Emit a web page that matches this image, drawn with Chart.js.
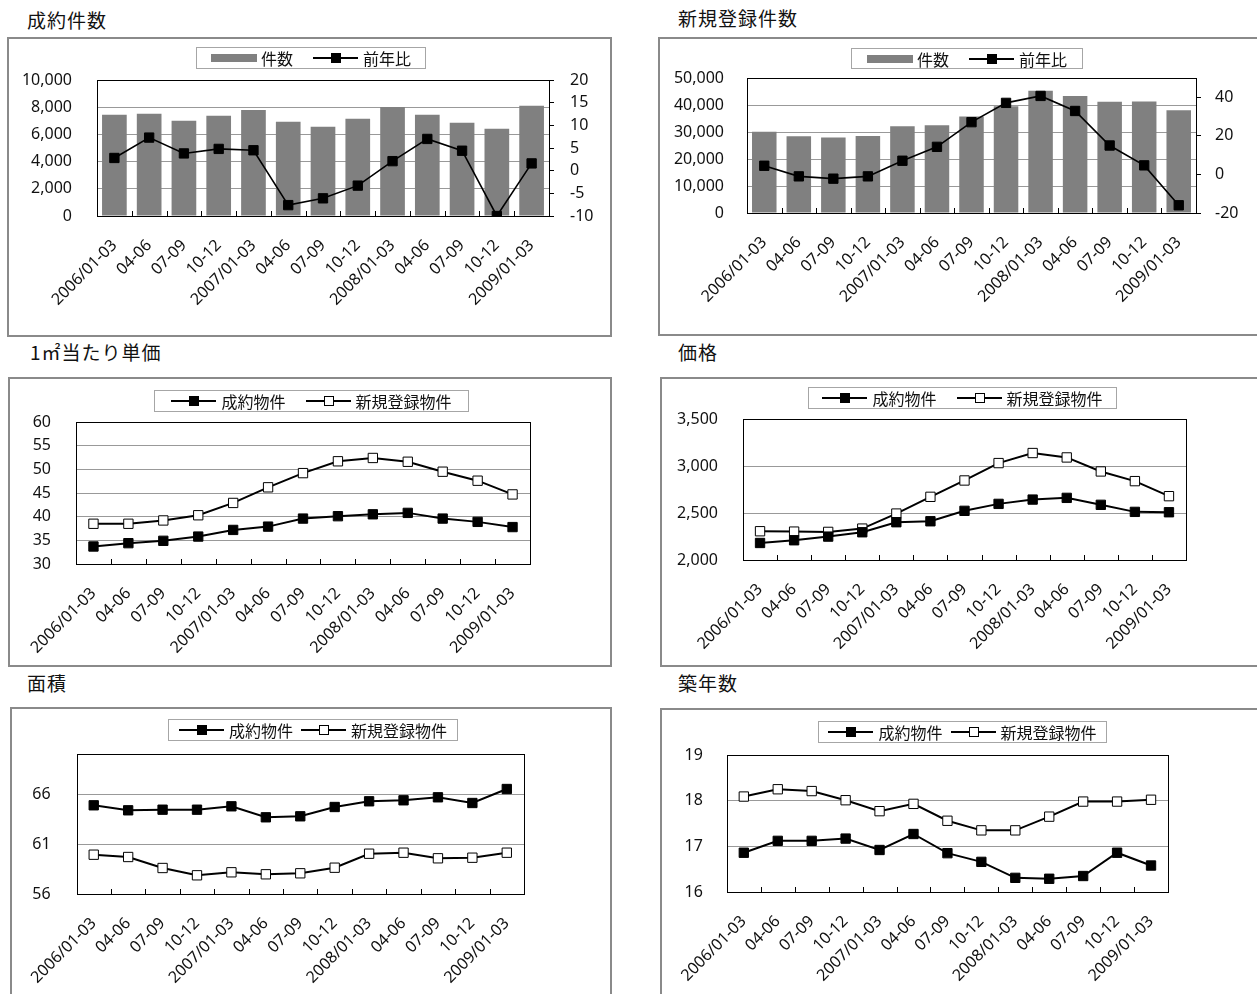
<!DOCTYPE html>
<html>
<head>
<meta charset="utf-8">
<title>成約・新規登録</title>
<script src="https://cdn.jsdelivr.net/npm/chart.js@4.4.0/dist/chart.umd.min.js"></script>
<style>
body{margin:0;width:1257px;height:994px;overflow:hidden;background:#fff;position:relative;font-family:"Noto Sans CJK JP",sans-serif;color:#111;}
.title{position:absolute;font-size:19px;line-height:24px;letter-spacing:1px;}
.box{position:absolute;border:2px solid #8a8a8a;box-sizing:border-box;}
.box canvas{position:absolute;left:0;top:0;}
.legend{position:absolute;border:1px solid #a6a6a6;box-sizing:border-box;display:flex;align-items:center;justify-content:center;font-size:16px;line-height:18px;white-space:nowrap;}
.swatch{display:inline-block;width:46px;height:8px;background:#808080;margin-right:4px;}
.mark{display:inline-block;width:45px;height:10px;position:relative;margin-right:5px;}
.mark:before{content:"";position:absolute;left:0;right:0;top:4px;border-top:2px solid #000;}
.mark i{position:absolute;left:18px;top:0;width:10px;height:10px;background:#000;box-sizing:border-box;border:1px solid #000;}
.mark.open i{background:#fff;}
.gap{display:inline-block;width:20px;}
</style>
</head>
<body>

<div class="title" style="left:27px;top:8px">成約件数</div>
<div class="title" style="left:678px;top:6px">新規登録件数</div>
<div class="title" style="left:30px;top:340px">1㎡当たり単価</div>
<div class="title" style="left:678px;top:340px">価格</div>
<div class="title" style="left:27px;top:671px">面積</div>
<div class="title" style="left:678px;top:671px">築年数</div>

<div class="box" style="left:7px;top:37px;width:605px;height:300px"><canvas id="c1" width="601" height="296"></canvas></div>
<div class="box" style="left:658px;top:37px;width:604px;height:299px"><canvas id="c2" width="600" height="295"></canvas></div>
<div class="box" style="left:8px;top:377px;width:604px;height:290px"><canvas id="c3" width="600" height="286"></canvas></div>
<div class="box" style="left:660px;top:377px;width:602px;height:290px"><canvas id="c4" width="598" height="286"></canvas></div>
<div class="box" style="left:10px;top:707px;width:602px;height:293px"><canvas id="c5" width="598" height="289"></canvas></div>
<div class="box" style="left:660px;top:708px;width:602px;height:292px"><canvas id="c6" width="598" height="288"></canvas></div>

<div class="legend" style="left:196px;top:47px;width:230px;height:22px"><span class="swatch"></span>件数<span class="gap"></span><span class="mark"><i></i></span>前年比</div>
<div class="legend" style="left:851px;top:48px;width:232px;height:21px"><span class="swatch"></span>件数<span class="gap"></span><span class="mark"><i></i></span>前年比</div>
<div class="legend" style="left:154px;top:390px;width:315px;height:22px"><span class="mark"><i></i></span>成約物件<span class="gap"></span><span class="mark open"><i></i></span>新規登録物件</div>
<div class="legend" style="left:808px;top:387px;width:309px;height:22px"><span class="mark"><i></i></span>成約物件<span class="gap"></span><span class="mark open"><i></i></span>新規登録物件</div>
<div class="legend" style="left:168px;top:719px;width:290px;height:22px"><span class="mark"><i></i></span>成約物件<span class="gap" style="width:8px"></span><span class="mark open"><i></i></span>新規登録物件</div>
<div class="legend" style="left:818px;top:721px;width:289px;height:22px"><span class="mark"><i></i></span>成約物件<span class="gap" style="width:8px"></span><span class="mark open"><i></i></span>新規登録物件</div>

<script>
// quarters on the x axis
var quarters = ['2006/01-03','04-06','07-09','10-12','2007/01-03','04-06','07-09','10-12','2008/01-03','04-06','07-09','10-12','2009/01-03'];

// 成約件数
var seiyakuKensu  = [7450,7510,7000,7370,7800,6930,6560,7150,8020,7440,6850,6420,8100];
var seiyakuZennen = [2.8,7.3,3.8,4.8,4.5,-7.6,-6.1,-3.3,2.1,7.0,4.4,-10.0,1.6];
// 新規登録件数
var shinkiKensu  = [30100,28400,28000,28500,32100,32500,35700,39500,45300,43300,41200,41300,38100];
var shinkiZennen = [4.5,-1.0,-2.2,-1.0,7.1,14.3,27.1,37.1,40.7,32.9,15.0,4.7,-16.0];
// 1㎡当たり単価
var tankaSeiyaku = [33.7,34.4,34.9,35.8,37.2,37.9,39.6,40.1,40.5,40.8,39.6,38.9,37.8];
var tankaShinki  = [38.5,38.5,39.2,40.3,42.9,46.2,49.2,51.7,52.4,51.6,49.5,47.6,44.7];
// 価格
var kakakuSeiyaku = [2181,2210,2249,2295,2402,2412,2523,2597,2643,2661,2587,2512,2508];
var kakakuShinki  = [2306,2302,2299,2334,2494,2672,2846,3031,3138,3091,2942,2839,2679];
// 面積
var mensekiSeiyaku = [64.87,64.37,64.43,64.43,64.77,63.67,63.77,64.70,65.27,65.37,65.67,65.10,66.50];
var mensekiShinki  = [59.93,59.70,58.60,57.87,58.17,57.97,58.07,58.63,60.03,60.13,59.57,59.63,60.13];
// 築年数
var chikuSeiyaku = [16.86,17.12,17.12,17.17,16.92,17.27,16.85,16.66,16.31,16.29,16.35,16.86,16.58];
var chikuShinki  = [18.09,18.25,18.21,18.01,17.77,17.93,17.56,17.35,17.35,17.65,17.98,17.98,18.02];

// tick labels
var ticksKensu1  = [0,2000,4000,6000,8000,10000];
var ticksZennen1 = [-10,-5,0,5,10,15,20];
var ticksKensu2  = [0,10000,20000,30000,40000,50000];
var ticksZennen2 = [-20,0,20,40];
var ticksTanka   = [30,35,40,45,50,55,60];
var ticksKakaku  = [2000,2500,3000,3500];
var ticksMenseki = [56,61,66];
var ticksChiku   = [16,17,18,19];

Chart.defaults.font.family = '"Noto Sans", sans-serif';
Chart.defaults.font.size = 16;
Chart.defaults.color = '#111';

function fmt(v) { return v.toLocaleString('en-US'); }
function setTicks(list) { return function(s) { s.ticks = list.map(function(v){ return {value: v}; }); }; }
function fixW(w) { return function(s) { s.width = w; }; }
function fixH(h) { return function(s) { s.height = h; }; }

// black frame round the plot area and short marks between quarters
function drawFrame(chart) {
    var a = chart.chartArea, ctx = chart.ctx, x = chart.scales.x, n = chart.data.labels.length;
    ctx.save();
    ctx.strokeStyle = '#000';
    ctx.lineWidth = 1;
    ctx.beginPath();
    for (var i = 1; i < n; i++) {
        var px = Math.round(x.getPixelForValue(i - 0.5)) + 0.5;
        ctx.moveTo(px, a.bottom);
        ctx.lineTo(px, a.bottom - 5);
    }
    ctx.stroke();
    ctx.strokeRect(Math.round(a.left) + 0.5, Math.round(a.top) + 0.5, Math.round(a.width), Math.round(a.height));
    ctx.restore();
}
var framePlugin = {
    id: 'frame',
    beforeDatasetsDraw: function(chart) {
        if (!chart.data.datasets.some(function(d){ return d.type === 'bar'; })) drawFrame(chart);
    },
    afterDatasetDraw: function(chart, args) {
        if (args.meta.type === 'bar') drawFrame(chart);
    }
};

function xAxis(h) {
    return {
        offset: true,
        grid: {display: false, drawTicks: false, offset: true},
        border: {display: false},
        ticks: {minRotation: 45, maxRotation: 45, autoSkip: false, padding: 20, color: '#111'},
        afterFit: fixH(h)
    };
}
function yAxis(min, max, list, w, pad) {
    return {
        min: min, max: max,
        grid: {color: '#999', drawTicks: false},
        border: {display: false},
        ticks: {padding: pad, color: '#111', callback: fmt},
        afterBuildTicks: setTicks(list),
        afterFit: fixW(w)
    };
}
function rightAxis(min, max, list, w, pad) {
    return {
        position: 'right',
        min: min, max: max,
        grid: {drawOnChartArea: false, drawTicks: true, tickLength: 5, color: '#000'},
        border: {display: false},
        ticks: {padding: pad, color: '#111', callback: fmt},
        afterBuildTicks: setTicks(list),
        afterFit: fixW(w)
    };
}
function lineSet(data, open, width) {
    return {
        type: 'line', data: data, order: 0,
        borderColor: '#000', borderWidth: width, tension: 0,
        pointStyle: 'rect', pointRadius: 6.6, pointHoverRadius: 6.6,
        pointBackgroundColor: open ? '#fff' : '#000',
        pointBorderColor: '#000', pointBorderWidth: 1
    };
}

function barChart(id, bars, line, yL, yR, box) {
    return new Chart(document.getElementById(id), {
        data: {
            labels: quarters,
            datasets: [
                {type: 'bar', data: bars, order: 1, yAxisID: 'y', backgroundColor: '#808080',
                 barPercentage: 0.71, categoryPercentage: 1},
                Object.assign(lineSet(line, false, 1.6), {yAxisID: 'y1'})
            ]
        },
        options: {
            responsive: false, animation: false,
            layout: {padding: {top: box.top, left: 0, right: 0, bottom: 0}},
            plugins: {legend: {display: false}, tooltip: {enabled: false}},
            scales: {
                x: xAxis(box.bottom),
                y: yAxis(yL.min, yL.max, yL.ticks, box.left, box.pad),
                y1: rightAxis(yR.min, yR.max, yR.ticks, box.right, box.rpad)
            }
        },
        plugins: [framePlugin]
    });
}

function lineChart(id, a, b, yL, box) {
    return new Chart(document.getElementById(id), {
        type: 'line',
        data: {
            labels: quarters,
            datasets: [lineSet(a, false, 2), lineSet(b, true, 2)]
        },
        options: {
            responsive: false, animation: false,
            layout: {padding: {top: box.top, left: 0, right: box.right, bottom: 0}},
            plugins: {legend: {display: false}, tooltip: {enabled: false}},
            scales: {
                x: xAxis(box.bottom),
                y: yAxis(yL.min, yL.max, yL.ticks, box.left, box.pad)
            }
        },
        plugins: [framePlugin]
    });
}

barChart('c1', seiyakuKensu, seiyakuZennen,
    {min: 0, max: 10000, ticks: ticksKensu1}, {min: -10, max: 20, ticks: ticksZennen1},
    {top: 41, left: 88, right: 61, bottom: 119, pad: 25, rpad: 16});
barChart('c2', shinkiKensu, shinkiZennen,
    {min: 0, max: 50000, ticks: ticksKensu2}, {min: -20, max: 50, ticks: ticksZennen2},
    {top: 39, left: 87, right: 64, bottom: 121, pad: 23, rpad: 14});
lineChart('c3', tankaSeiyaku, tankaShinki, {min: 30, max: 60, ticks: ticksTanka},
    {top: 43, left: 66, right: 80, bottom: 101, pad: 25});
lineChart('c4', kakakuSeiyaku, kakakuShinki, {min: 2000, max: 3500, ticks: ticksKakaku},
    {top: 40, left: 81, right: 74, bottom: 105, pad: 25});
lineChart('c5', mensekiSeiyaku, mensekiShinki, {min: 56, max: 70, ticks: ticksMenseki},
    {top: 45, left: 55, right: 86, bottom: 104, pad: 26});
lineChart('c6', chikuSeiyaku, chikuShinki, {min: 16, max: 19, ticks: ticksChiku},
    {top: 45, left: 57, right: 92, bottom: 106, pad: 24});
</script>
</body>
</html>
